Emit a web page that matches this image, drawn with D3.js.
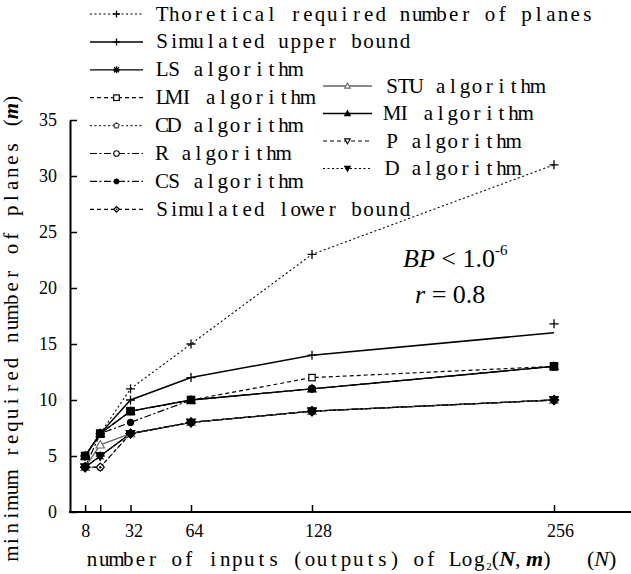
<!DOCTYPE html>
<html>
<head>
<meta charset="utf-8">
<script src="https://cdn.jsdelivr.net/npm/d3@7"></script>
<style>
  body { margin: 0; background: #fff; }
</style>
</head>
<body>
<script>
      // data
      var xValues = [8, 16, 32, 64, 128, 256];
      var xTicks = [8, 16, 32, 64, 128, 256];
      var xTickLabels = ["8", "", "32", "64", "128", "256"];
      var yTicks = [0, 5, 10, 15, 20, 25, 30, 35];

      var theoretical = [5, 7, 11, 15, 23, 31];
      var upperBound  = [5, 7, 10, 12, 14, 16];
      var upperMarks  = [5, 7, 10, 12, 14, 16.8];
      var lsAlg       = [4, 5, 7, 8, 9, 10];
      var lmiAlg      = [5, 7, 9, 10, 12, 13];
      var cdAlg       = [4, 4, 7, 8, 9, 10];
      var rAlg        = [5, 7, 9, 10, 11, 13];
      var csAlg       = [4, 7, 8, 10, 11, 13];
      var lowerBound  = [4, 4, 7, 8, 9, 10];
      var stuAlg      = [4, 6, 7, 8, 9, 10];
      var miAlg       = [5, 7, 9, 10, 11, 13];
      var pAlg        = [4, 5, 7, 8, 9, 10];
      var dAlg        = [4, 5, 7, 8, 9, 10];

      // overlapping markers that show as solid blocks
      var blockX = [8, 16, 32, 64, 256];
      var blockY = [5, 7, 9, 10, 13];
      var blobX  = [8, 32, 64, 128, 256];
      var blobY  = [4, 7, 8, 9, 10];

      var w = 631;
      var h = 574;
      var serif = "'Liberation Serif', 'DejaVu Serif', serif";

      var svg = d3.select("body")
                  .append("svg")
                  .attr("width", w)
                  .attr("height", h);

      var x = d3.scaleLinear().domain([0, 256]).range([70, 554]);
      var y = d3.scaleLinear().domain([0, 35]).range([512, 120]);

      var DOT = "2,2.5", DASH = "4,3", DASHDOT = "7,2.5,2,2.5";

      var series = [
        {name: "Thoretical required number of planes", v: theoretical, m: theoretical, dash: DOT, col: "#000", sw: 1.1, mk: "plus", col2: 0},
        {name: "Simulated upper bound", v: upperBound, m: upperMarks, dash: null, col: "#000", sw: 1.5, mk: "plus", col2: 0},
        {name: "LS algorithm", v: lsAlg, m: lsAlg, dash: null, col: "#000", sw: 1.3, mk: "star", col2: 0},
        {name: "LMI algorithm", v: lmiAlg, m: lmiAlg, dash: DASH, col: "#000", sw: 1.2, mk: "square", col2: 0},
        {name: "CD algorithm", v: cdAlg, m: cdAlg, dash: DOT, col: "#333", sw: 1.1, mk: "pent", col2: 0},
        {name: "R algorithm", v: rAlg, m: rAlg, dash: DASHDOT, col: "#000", sw: 1.1, mk: "circle", col2: 0},
        {name: "CS algorithm", v: csAlg, m: csAlg, dash: DASHDOT, col: "#000", sw: 1.2, mk: "circleFill", col2: 0},
        {name: "Simulated lower bound", v: lowerBound, m: lowerBound, dash: DASH, col: "#000", sw: 1.2, mk: "diamond", col2: 0},
        {name: "STU algorithm", v: stuAlg, m: stuAlg, dash: null, col: "#666", sw: 1.3, mk: "tri", col2: 1},
        {name: "MI algorithm", v: miAlg, m: miAlg, dash: null, col: "#000", sw: 1.3, mk: "triFill", col2: 1},
        {name: "P algorithm", v: pAlg, m: pAlg, dash: DASH, col: "#000", sw: 1.1, mk: "triDown", col2: 1},
        {name: "D algorithm", v: dAlg, m: dAlg, dash: DOT, col: "#000", sw: 1.1, mk: "triDownFill", col2: 1}
      ];

      // serif text laid out on a fixed character grid (like the original's font)
      function gridText(sel, str, x0, step) {
        var xs = [];
        for (var i = 0; i < str.length; i++) xs.push((x0 + (i + 0.5) * step).toFixed(1));
        return sel.attr("x", xs.join(" ")).attr("text-anchor", "middle").text(str);
      }

      function marker(g, type, cx, cy, s, col) {
        var p;
        switch (type) {
          case "plus":
            g.append("path").attr("d", "M" + (cx - s) + "," + cy + "H" + (cx + s) + "M" + cx + "," + (cy - s) + "V" + (cy + s))
             .attr("stroke", "#000").attr("stroke-width", 1.3);
            break;
          case "star":
            var d = s * 0.72;
            g.append("path").attr("d", "M" + (cx - s) + "," + cy + "H" + (cx + s) + "M" + cx + "," + (cy - s) + "V" + (cy + s) +
                "M" + (cx - d) + "," + (cy - d) + "L" + (cx + d) + "," + (cy + d) + "M" + (cx - d) + "," + (cy + d) + "L" + (cx + d) + "," + (cy - d))
             .attr("stroke", "#000").attr("stroke-width", 1.3);
            break;
          case "square":
            g.append("rect").attr("x", cx - s).attr("y", cy - s).attr("width", 2 * s).attr("height", 2 * s)
             .attr("fill", "#fff").attr("stroke", "#000").attr("stroke-width", 1.2);
            break;
          case "squareFill":
            g.append("rect").attr("x", cx - s).attr("y", cy - s).attr("width", 2 * s).attr("height", 2 * s)
             .attr("fill", "#000").attr("stroke", "#000").attr("stroke-width", 1);
            break;
          case "pent":
            p = d3.range(5).map(function(i) {
              var a = -Math.PI / 2 + i * 2 * Math.PI / 5;
              return [cx + s * Math.cos(a), cy + s * Math.sin(a)];
            });
            g.append("path").attr("d", "M" + p.join("L") + "Z")
             .attr("fill", "#fff").attr("stroke", "#444").attr("stroke-width", 1.2);
            break;
          case "circle":
            g.append("circle").attr("cx", cx).attr("cy", cy).attr("r", s)
             .attr("fill", "#fff").attr("stroke", "#000").attr("stroke-width", 1.1);
            break;
          case "circleFill":
            g.append("circle").attr("cx", cx).attr("cy", cy).attr("r", s).attr("fill", "#000");
            break;
          case "diamond":
            g.append("path").attr("d", "M" + cx + "," + (cy - s) + "L" + (cx + s) + "," + cy + "L" + cx + "," + (cy + s) + "L" + (cx - s) + "," + cy + "Z")
             .attr("fill", "#fff").attr("stroke", "#000").attr("stroke-width", 1.2);
            g.append("circle").attr("cx", cx).attr("cy", cy).attr("r", s * 0.3).attr("fill", "#000");
            break;
          case "diamondFill":
            g.append("path").attr("d", "M" + cx + "," + (cy - s) + "L" + (cx + s) + "," + cy + "L" + cx + "," + (cy + s) + "L" + (cx - s) + "," + cy + "Z")
             .attr("fill", "#000").attr("stroke", "#000").attr("stroke-width", 1.2);
            break;
          case "tri":
          case "triFill":
          case "triDown":
          case "triDownFill":
            var down = type.indexOf("Down") >= 0;
            var fill = type.indexOf("Fill") >= 0;
            var sy = down ? -1 : 1;
            p = [[cx, cy - sy * s], [cx + s, cy + sy * s * 0.75], [cx - s, cy + sy * s * 0.75]];
            g.append("path").attr("d", "M" + p.join("L") + "Z")
             .attr("fill", fill ? col : "#fff").attr("stroke", col).attr("stroke-width", 1.1);
            break;
        }
      }

      // axes
      var yAxis = d3.axisLeft(y).tickValues(yTicks).tickSizeInner(-7).tickSizeOuter(0).tickPadding(13);
      var gy = svg.append("g").attr("transform", "translate(70,0)").call(yAxis);
      gy.select(".domain").attr("stroke-width", 2);
      gy.selectAll(".tick line").attr("stroke-width", 1.5);
      gy.selectAll("text").attr("font-family", serif).attr("font-size", "18px").attr("fill", "#000");

      var xAxis = d3.axisBottom(x).tickValues(xTicks).tickFormat(function(d, i) { return xTickLabels[i]; })
                    .tickSizeInner(-7).tickSizeOuter(0).tickPadding(12);
      var gx = svg.append("g").attr("transform", "translate(0,512)").call(xAxis);
      gx.select(".domain").remove();
      gx.selectAll(".tick line").attr("stroke-width", 1.5);
      gx.selectAll("text").attr("font-family", serif).attr("font-size", "18px").attr("fill", "#000")
        .attr("dx", function(d, i) { return 3 * (xTickLabels[i].length - 1); });
      svg.append("line").attr("x1", 69).attr("x2", w).attr("y1", 512).attr("y2", 512)
         .attr("stroke", "#000").attr("stroke-width", 2);

      // lines
      var line = d3.line().x(function(d) { return x(d[0]); }).y(function(d) { return y(d[1]); });
      var gl = svg.append("g");
      series.forEach(function(s) {
        gl.append("path")
          .attr("d", line(xValues.map(function(v, i) { return [v, s.v[i]]; })))
          .attr("fill", "none")
          .attr("stroke", s.col)
          .attr("stroke-width", s.sw)
          .attr("stroke-dasharray", s.dash);
      });

      // markers
      var gm = svg.append("g");
      var chartSize = {plus: 4.5, star: 4.5, square: 3.2, pent: 3.5, circle: 3.5, circleFill: 3.6, diamond: 4,
                       tri: 4.2, triFill: 4.2, triDown: 4.2, triDownFill: 4.2};
      series.forEach(function(s) {
        s.m.forEach(function(v, i) {
          marker(gm, s.mk, x(xValues[i]), y(v), chartSize[s.mk], s.col);
        });
      });
      blockX.forEach(function(v, i) { marker(gm, "squareFill", x(v), y(blockY[i]), 3.8, "#000"); });
      blobX.forEach(function(v, i) { marker(gm, "diamondFill", x(v), y(blobY[i]), 4.6, "#000"); });

      // legend
      var leg = svg.append("g");
      var colCount = [0, 0];
      series.forEach(function(s) {
        var c = s.col2;
        var row = colCount[c]++;
        var ly = c === 0 ? 14 + row * 27.9 : 86 + row * 27.5;
        var x1 = c === 0 ? 90 : 323, x2 = c === 0 ? 143 : 372, tx = c === 0 ? 156 : 386;
        leg.append("line").attr("x1", x1).attr("x2", x2).attr("y1", ly).attr("y2", ly)
           .attr("stroke", s.col).attr("stroke-width", s.sw).attr("stroke-dasharray", s.dash);
        marker(leg, s.mk, (x1 + x2) / 2, ly, s.mk === "plus" || s.mk === "star" ? 3.5 : 2.8, s.col);
        var t = leg.append("text").attr("y", ly + 6.5)
           .attr("font-family", serif).attr("font-size", "21px").attr("fill", "#000");
        gridText(t, s.name, tx, 12.15);
      });

      // annotation
      var a1 = svg.append("text").attr("x", 403).attr("y", 267)
                  .attr("font-family", serif).attr("font-size", "26px").attr("fill", "#000");
      a1.append("tspan").attr("font-style", "italic").text("BP");
      a1.append("tspan").text(" < 1.0");
      a1.append("tspan").attr("font-size", "15px").attr("dy", -12).text("-6");
      var a2 = svg.append("text").attr("x", 415).attr("y", 303)
                  .attr("font-family", serif).attr("font-size", "26px").attr("fill", "#000");
      a2.append("tspan").attr("font-style", "italic").text("r");
      a2.append("tspan").text(" = 0.8");

      // axis titles
      var yt = svg.append("text")
                  .attr("transform", "translate(18,0) rotate(-90)")
                  .attr("font-family", serif).attr("font-size", "21px").attr("fill", "#000");
      var yStr = "minimum required number of planes ";
      gridText(yt.append("tspan"), yStr, -560, 12.7);
      yt.append("tspan").attr("x", -560 + yStr.length * 12.7 + 2).attr("text-anchor", "start").text("(");
      yt.append("tspan").attr("font-style", "italic").attr("font-weight", "bold").attr("font-size", "21px").text("m");
      yt.append("tspan").text(")");

      var xt = svg.append("text").attr("y", 566)
                  .attr("font-family", serif).attr("font-size", "21px").attr("fill", "#000");
      var xStr = "number of inputs (outputs) of Log";
      gridText(xt.append("tspan"), xStr, 86, 12.1);
      xt.append("tspan").attr("x", 86 + xStr.length * 12.1 + 1).attr("text-anchor", "start")
        .attr("font-size", "11px").attr("dy", 4).text("2");
      xt.append("tspan").attr("font-size", "22px").attr("dy", -4).text("(");
      xt.append("tspan").attr("font-size", "22px").attr("font-style", "italic").attr("font-weight", "bold").text("N");
      xt.append("tspan").attr("font-size", "22px").text(", ");
      xt.append("tspan").attr("font-size", "22px").attr("font-style", "italic").attr("font-weight", "bold").text("m");
      xt.append("tspan").attr("font-size", "22px").text(")");
      xt.append("tspan").attr("font-size", "22px").attr("x", 587).text("(");
      xt.append("tspan").attr("font-size", "22px").attr("font-style", "italic").text("N");
      xt.append("tspan").attr("font-size", "22px").text(")");
</script>
</body>
</html>
